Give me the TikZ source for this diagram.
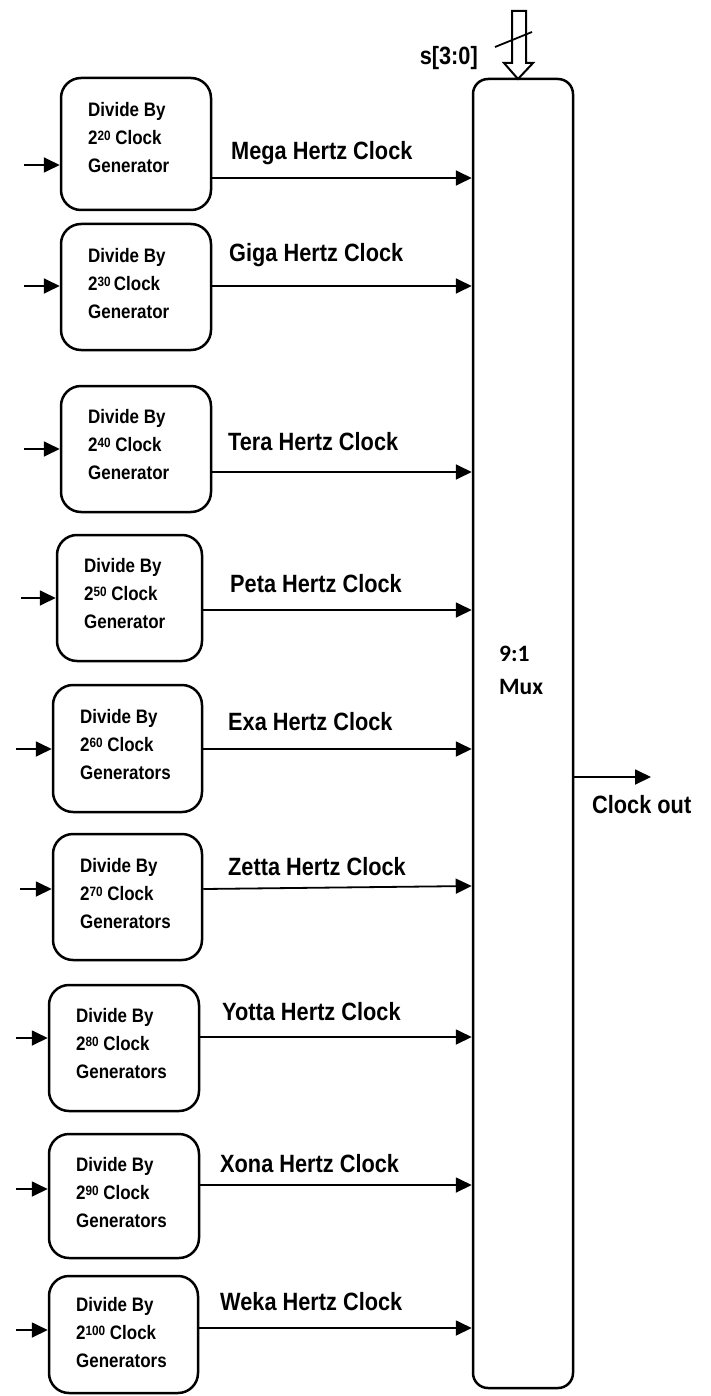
\documentclass[tikz,border=0pt]{standalone}
\usepackage{fontspec}
\setmainfont{Liberation Sans}
\newfontfamily\arn[FakeStretch=0.87]{Liberation Sans}
\newfontfamily\muxfont{Carlito}
\usetikzlibrary{arrows.meta,calc}
% rounded generator box from its left, top, right and bottom edges
\newcommand\genbox[5]{%
  \node[gen, minimum width={#4-#2}, minimum height={#5-#3}] (#1)
    at ({(#2+#4)/2},{(#3+#5)/2}) {};}
% small exponent whose top sits level with the capitals
\newcommand\expo[1]{\raisebox{4.2pt}{\fontsize{13.5}{13.5}\selectfont #1}}
\begin{document}
\begin{tikzpicture}[x=1pt,y=-1pt,
  gen/.style={draw, line width=2.5pt, rounded corners=20pt, inner sep=0pt},
  gtext/.style={font=\arn\bfseries\fontsize{19.5}{28}\selectfont, align=left,
    inner sep=0pt, anchor=north west},
  wire/.style={line width=1.8pt},
  arr/.style={wire, -{Triangle[length=16pt,width=15pt]}},
  lab/.style={font=\arn\bfseries\fontsize{25}{30}\selectfont, inner sep=0pt,
    anchor=base west}]
\useasboundingbox (0,0) rectangle (710,1396);

% 9:1 multiplexer
\node[gen, rounded corners=15pt, minimum width=100pt, minimum height=1309pt]
  (mux) at (523,733.5) {};
\node[font=\muxfont\bfseries\fontsize{23.5}{33}\selectfont, align=left, inner sep=0pt,
  anchor=north west] (muxt) at (499,646) {9:1\\Mux};

% select bus
\coordinate (sel) at (518,79);
\draw[line width=2pt, line join=miter]
  ($(sel)+(-6,-68)$) -- ($(sel)+(-6,-16)$) -- ($(sel)+(-14,-16)$) -- (sel)
  -- ($(sel)+(15,-16)$) -- ($(sel)+(8,-16)$) -- ($(sel)+(8,-68)$) -- cycle;
\coordinate (sl1) at (495,47);
\coordinate (sl2) at (532,32);
\draw[wire] (sl1) -- (sl2);
\node[lab, anchor=base east] (sel lab) at (478,65) {s[3:0]};

% clock generators
\genbox{g1}{61}{78}{211}{210}
\genbox{g2}{61}{224}{211}{350}
\genbox{g3}{61}{386}{211}{512}
\genbox{g4}{57}{535}{202}{661}
\genbox{g5}{53}{685}{202}{812}
\genbox{g6}{53}{834}{202}{960}
\genbox{g7}{49}{985}{199}{1111}
\genbox{g8}{49}{1134}{199}{1258}
\genbox{g9}{49}{1276}{198}{1393}

\node[gtext] (t1) at (88,102)  {Divide By\\2\expo{20} Clock\\Generator};
\node[gtext] (t2) at (88,248)  {Divide By\\2\expo{30}\,Clock\\Generator};
\node[gtext] (t3) at (88,409)  {Divide By\\2\expo{40} Clock\\Generator};
\node[gtext] (t4) at (84,558)  {Divide By\\2\expo{50} Clock\\Generator};
\node[gtext] (t5) at (80,709)  {Divide By\\2\expo{60} Clock\\Generators};
\node[gtext] (t6) at (80,858)  {Divide By\\2\expo{70} Clock\\Generators};
\node[gtext] (t7) at (76,1008) {Divide By\\2\expo{80} Clock\\Generators};
\node[gtext] (t8) at (76,1157) {Divide By\\2\expo{90} Clock\\Generators};
\node[gtext] (t9) at (76,1297) {Divide By\\2\expo{100} Clock\\Generators};

% clock inputs
\coordinate (i1) at (24,165);
\coordinate (i2) at (24,286);
\coordinate (i3) at (24,449);
\coordinate (i4) at (21,598);
\coordinate (i5) at (16,749);
\coordinate (i6) at (20,889);
\coordinate (i7) at (16,1038);
\coordinate (i8) at (16,1189);
\coordinate (i9) at (16,1330);
\foreach \k in {1,...,9} \draw[arr] (i\k) -- (g\k.west |- i\k);

% generator outputs into the mux
\coordinate (o1) at (0,178);
\coordinate (o2) at (0,286);
\coordinate (o3) at (0,472);
\coordinate (o4) at (0,610);
\coordinate (o5) at (0,749);
\coordinate (o6) at (0,889);
\coordinate (m6) at (0,886);
\coordinate (o7) at (0,1037);
\coordinate (o8) at (0,1185);
\coordinate (o9) at (0,1328);
\foreach \k in {1,2,3,4,5,7,8,9} \draw[arr] (g\k.east |- o\k) -- (mux.west |- o\k);
\draw[arr] (g6.east |- o6) -- (mux.west |- m6);

\node[lab] (l1) at (231,160)  {Mega Hertz Clock};
\node[lab] (l2) at (229,262)  {Giga Hertz Clock};
\node[lab] (l3) at (228,450)  {Tera Hertz Clock};
\node[lab] (l4) at (230,592)  {Peta Hertz Clock};
\node[lab] (l5) at (228,730)  {Exa Hertz Clock};
\node[lab] (l6) at (228,875)  {Zetta Hertz Clock};
\node[lab] (l7) at (222,1020) {Yotta Hertz Clock};
\node[lab] (l8) at (220,1172) {Xona Hertz Clock};
\node[lab] (l9) at (220,1310) {Weka Hertz Clock};

% multiplexer output
\coordinate (out) at (651,777);
\draw[arr] (mux.east |- out) -- (out);
\node[lab] (outl) at (592,813) {Clock out};
\end{tikzpicture}
\end{document}
